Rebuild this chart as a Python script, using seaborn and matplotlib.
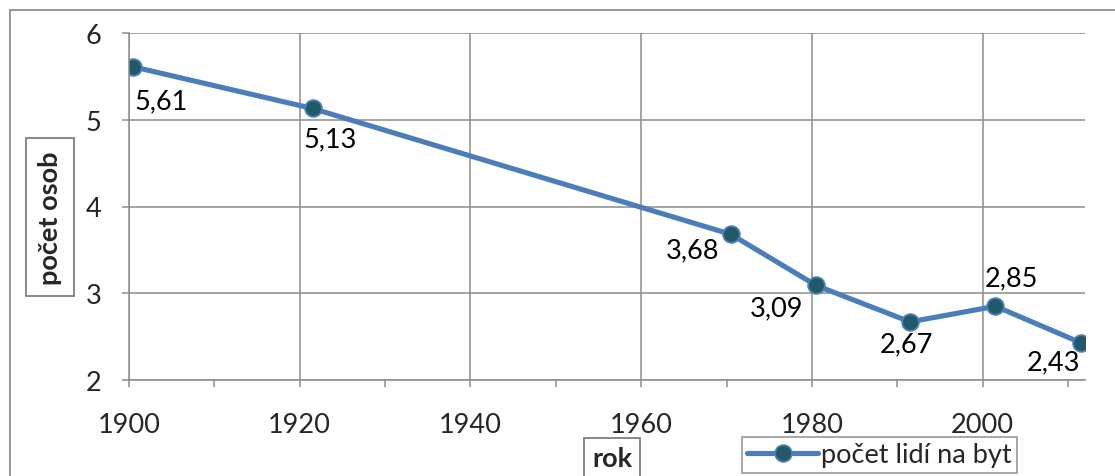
import matplotlib
matplotlib.use("Agg")
import matplotlib.pyplot as plt
import matplotlib.patches as patches
from matplotlib.ticker import MultipleLocator
import seaborn as sns
import pandas as pd

# data (x = census year, y = persons per dwelling)
years = [1900.5, 1921.5, 1970.5, 1980.5, 1991.5, 2001.5, 2011.5]
persons = [5.61, 5.13, 3.68, 3.09, 2.67, 2.85, 2.43]
labels = ["5,61", "5,13", "3,68", "3,09", "2,67", "2,85", "2,43"]
series_name = "počet lidí na byt"

# label offsets in pixels relative to each point
label_offsets = [(28, -34), (18, -30), (-38, -16), (-40, -22), (-4, -22), (16, 28), (-27, -19)]

df = pd.DataFrame({"rok": years, "osob": persons, "serie": series_name})

sns.set_style("white")
plt.rcParams["font.family"] = ["Lato", "DejaVu Sans"]
fs = 19.5

line_col = "#4A7EBB"
marker_col = "#215968"
grid_col = "#8C8C8C"

fig = plt.figure(figsize=(11.15, 4.77), dpi=100)
ax = fig.add_axes([129 / 1115, 1 - 381 / 477, (1085 - 129) / 1115, (381 - 34) / 477])

sns.lineplot(data=df, x="rok", y="osob", hue="serie", palette=[line_col],
             marker="o", markersize=12, markerfacecolor=marker_col,
             markeredgecolor=line_col, markeredgewidth=1.3, linewidth=3.7,
             ax=ax, legend=True)

ax.set_xlim(1900, 2012)
ax.set_ylim(2, 6)
ax.xaxis.set_major_locator(MultipleLocator(20))
ax.xaxis.set_minor_locator(MultipleLocator(10))
ax.yaxis.set_major_locator(MultipleLocator(1))
ax.grid(True, which="major", color=grid_col, linewidth=1.1)
ax.set_axisbelow(True)

for side in ["top", "right"]:
    ax.spines[side].set_visible(False)
for side in ["left", "bottom"]:
    ax.spines[side].set_color(grid_col)
    ax.spines[side].set_linewidth(1.1)

ax.tick_params(axis="both", which="both", direction="out", color=grid_col,
               width=1.1, length=5, labelsize=fs, bottom=True, left=True)
ax.tick_params(axis="y", pad=15)
ax.tick_params(axis="x", pad=18)

for x, y, t, (dx, dy) in zip(years, persons, labels, label_offsets):
    ax.annotate(t, (x, y), xytext=(dx, dy), textcoords="offset pixels",
                ha="center", va="center", fontsize=fs, color="black")

ybox = dict(facecolor="white", edgecolor="#7F7F7F", linewidth=1.3, boxstyle="square,pad=0.45")
ax.set_ylabel("počet osob", fontsize=fs, fontweight="bold", bbox=ybox, va="center")
ax.yaxis.set_label_coords((50 - 129) / 956, (381 - 218) / 347)

xbox = dict(facecolor="white", edgecolor="#7F7F7F", linewidth=1.3, boxstyle="square,pad=0.3")
ax.set_xlabel("rok", fontsize=fs, fontweight="bold", bbox=xbox, va="center")
ax.xaxis.set_label_coords((612 - 129) / 956, (381 - 459) / 347)

leg = ax.legend(loc="upper left", bbox_to_anchor=(742 / 1115, 1 - 438 / 477),
                bbox_transform=fig.transFigure, frameon=True, fancybox=False,
                fontsize=fs, handlelength=2.6, handletextpad=0.1,
                borderpad=0.2, borderaxespad=0)
leg.get_frame().set_edgecolor("#7F7F7F")
leg.get_frame().set_linewidth(1.2)

# outer chart frame
fig.patches.append(patches.Rectangle((10 / 1115, -0.1), 1.2, 1.1 - 11 / 477,
                                     transform=fig.transFigure, fill=False,
                                     edgecolor="#8C8C8C", linewidth=1.3))

fig.savefig("out.png", dpi=100)
